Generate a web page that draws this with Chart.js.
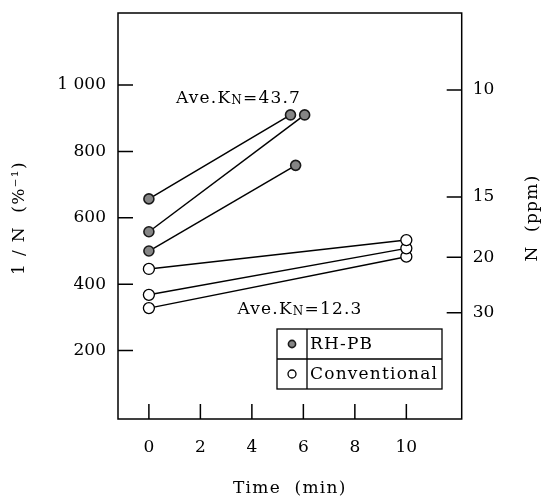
<!DOCTYPE html>
<html>
<head>
<meta charset="utf-8">
<script src="https://cdn.jsdelivr.net/npm/chart.js@4"></script>
<style>
  body { margin: 0; background: #fff; }
  #wrap { width: 541px; height: 499px; }
</style>
</head>
<body>
<div id="wrap"><canvas id="kChart"></canvas></div>
<script>
// values (1/N in %^-1, time in min)
const rhpbStart = [657, 558, 500];
const rhpbEndTime = [5.5, 6.05, 5.7];
const rhpbEnd = [910, 910, 758];
const convStart = [446, 368, 328];
const convEndTime = [10, 10, 10];
const convEnd = [533, 508, 483];

const timeTicks = [0, 2, 4, 6, 8, 10];
const leftTicks = [200, 400, 600, 800, 1000];
const leftTickLabels = ['200', '400', '600', '800', '1 000'];
const rightTickPos = [985, 663, 481, 314];
const rightTickLabels = ['10', '15', '20', '30'];

const seriesNames = ['RH-PB', 'Conventional'];
const notes = [
    { x: 1.05, y: 946, k: '43.7' },
    { x: 3.44, y: 310, k: '12.3' }
];

const FONT = '"DejaVu Serif", serif';
const rhpbStyle = { pointRadius: 5, pointBackgroundColor: '#858585', pointBorderColor: '#1a1a1a', pointBorderWidth: 1.6 };
const convStyle = { pointRadius: 5.5, pointBackgroundColor: '#fff', pointBorderColor: '#000', pointBorderWidth: 1.3 };

function segment(t0, y0, t1, y1, style) {
    return Object.assign({
        data: [{ x: t0, y: y0 }, { x: t1, y: y1 }],
        borderColor: '#000',
        borderWidth: 1.5,
        fill: false,
        tension: 0
    }, style);
}

const datasets = [];
rhpbStart.forEach((v, i) => datasets.push(segment(0, v, rhpbEndTime[i], rhpbEnd[i], rhpbStyle)));
convStart.forEach((v, i) => datasets.push(segment(0, v, convEndTime[i], convEnd[i], convStyle)));

// frame, inward ticks, titles, notes and boxed legend
const decor = {
    id: 'decor',
    beforeDatasetsDraw(chart) {
        const { ctx, chartArea: a, scales } = chart;
        ctx.save();
        ctx.strokeStyle = '#000';
        ctx.lineWidth = 1.5;
        ctx.strokeRect(a.left, a.top, a.right - a.left, a.bottom - a.top);
        ctx.beginPath();
        timeTicks.forEach(t => {
            const px = scales.x.getPixelForValue(t);
            ctx.moveTo(px, a.bottom); ctx.lineTo(px, a.bottom - 15);
        });
        leftTicks.forEach(v => {
            const py = scales.y.getPixelForValue(v);
            ctx.moveTo(a.left, py); ctx.lineTo(a.left + 15, py);
        });
        rightTickPos.forEach(v => {
            const py = scales.y2.getPixelForValue(v);
            ctx.moveTo(a.right, py); ctx.lineTo(a.right - 15, py);
        });
        ctx.stroke();

        ctx.fillStyle = '#000';
        ctx.font = '17px ' + FONT;
        ctx.letterSpacing = '1.3px';
        ctx.textAlign = 'center';
        ctx.textBaseline = 'middle';
        ctx.fillText('Time  (min)', (a.left + a.right) / 2, 489);
        const midY = (a.top + a.bottom) / 2;
        ctx.save();
        ctx.translate(20, midY + 2);
        ctx.rotate(-Math.PI / 2);
        ctx.fillText('1 / N  (%\u207B\u00B9)', 0, 0);
        ctx.restore();
        ctx.save();
        ctx.translate(533, midY + 2);
        ctx.rotate(-Math.PI / 2);
        ctx.fillText('N  (ppm)', 0, 0);
        ctx.restore();
        ctx.restore();
    },
    afterDatasetsDraw(chart) {
        const { ctx, scales } = chart;
        ctx.save();
        ctx.fillStyle = '#000';
        ctx.textBaseline = 'alphabetic';
        ctx.textAlign = 'left';
        ctx.letterSpacing = '1.2px';
        notes.forEach(n => {
            let px = scales.x.getPixelForValue(n.x);
            const py = scales.y.getPixelForValue(n.y);
            ctx.font = '17px ' + FONT;
            ctx.fillText('Ave.K', px, py);
            px += ctx.measureText('Ave.K').width;
            ctx.font = '12px ' + FONT;
            ctx.fillText('N', px, py + 1);
            px += ctx.measureText('N').width;
            ctx.font = '17px ' + FONT;
            ctx.fillText('=' + n.k, px, py);
        });

        // legend box
        const L = 277, R = 442, T = 329, M = 359, B = 389, D = 307;
        ctx.strokeStyle = '#000';
        ctx.lineWidth = 1.3;
        ctx.fillStyle = '#fff';
        ctx.fillRect(L, T, R - L, B - T);
        ctx.strokeRect(L, T, R - L, B - T);
        ctx.beginPath();
        ctx.moveTo(L, M); ctx.lineTo(R, M);
        ctx.moveTo(D, T); ctx.lineTo(D, B);
        ctx.stroke();
        const rows = [[T, M, rhpbStyle, 3.6], [M, B, convStyle, 4]];
        rows.forEach((r, i) => {
            const cy = (r[0] + r[1]) / 2;
            ctx.beginPath();
            ctx.arc(292, cy, r[3], 0, Math.PI * 2);
            ctx.fillStyle = r[2].pointBackgroundColor;
            ctx.fill();
            ctx.strokeStyle = r[2].pointBorderColor;
            ctx.lineWidth = r[2].pointBorderWidth;
            ctx.stroke();
            ctx.fillStyle = '#000';
            ctx.font = '17px ' + FONT;
            ctx.textBaseline = 'middle';
            ctx.fillText(seriesNames[i], 310, cy + 1);
        });
        ctx.restore();
    }
};

const noGrid = { display: false, drawTicks: false, tickLength: 0 };
function fixSize(w, h) {
    return s => {
        if (w) s.width = w;
        if (h) s.height = h;
        s.paddingTop = 0; s.paddingBottom = 0;
        s.paddingLeft = 0; s.paddingRight = 0;
    };
}

new Chart(document.getElementById('kChart'), {
    type: 'line',
    data: { datasets: datasets },
    options: {
        responsive: true,
        maintainAspectRatio: false,
        animation: false,
        layout: { autoPadding: false, padding: { top: 13, left: 0, right: 0, bottom: 0 } },
        plugins: { legend: { display: false }, tooltip: { enabled: false } },
        scales: {
            x: {
                type: 'linear',
                min: -1.2,
                max: 12.15,
                afterFit: fixSize(0, 80),
                afterBuildTicks: s => { s.ticks = timeTicks.map(v => ({ value: v })); },
                grid: noGrid,
                border: { display: false },
                ticks: { color: '#000', padding: 18, maxRotation: 0, font: { family: FONT, size: 17 } }
            },
            y: {
                type: 'linear',
                position: 'left',
                min: -6,
                max: 1217,
                afterFit: fixSize(118, 0),
                afterBuildTicks: s => { s.ticks = leftTicks.map(v => ({ value: v })); },
                grid: noGrid,
                border: { display: false },
                ticks: {
                    color: '#000', padding: 12, font: { family: FONT, size: 17 },
                    callback: (v, i) => leftTickLabels[i]
                }
            },
            y2: {
                type: 'linear',
                position: 'right',
                min: -6,
                max: 1217,
                afterFit: fixSize(79.3, 0),
                afterBuildTicks: s => { s.ticks = rightTickPos.map(v => ({ value: v })); },
                grid: noGrid,
                border: { display: false },
                ticks: {
                    color: '#000', padding: 11, font: { family: FONT, size: 17 },
                    callback: (v, i) => rightTickLabels[i]
                }
            }
        }
    },
    plugins: [decor]
});
</script>
</body>
</html>
